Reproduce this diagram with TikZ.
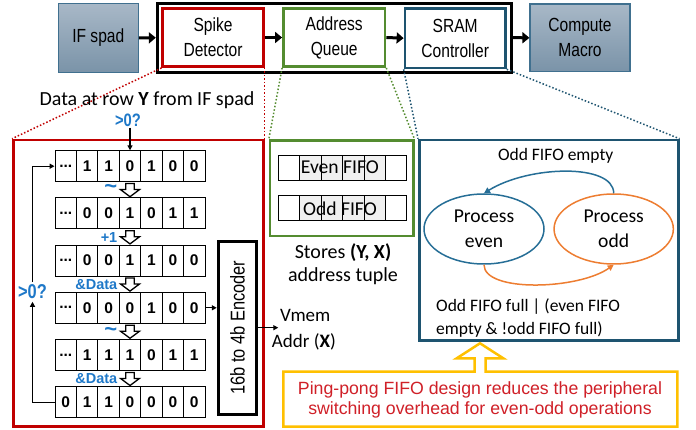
\documentclass[tikz,border=0pt]{standalone}
\usepackage{fontspec}
\setmainfont{Carlito}
\newfontfamily\arial{Liberation Sans}
\newfontfamily\narrow[FakeStretch=0.82]{Liberation Sans}
\usetikzlibrary{arrows.meta,calc,shapes.geometric}
\definecolor{cred}{RGB}{192,0,0}
\definecolor{cgreen}{RGB}{84,140,48}
\definecolor{cblue}{RGB}{30,84,112}
\definecolor{ceven}{RGB}{38,110,150}
\definecolor{codd}{RGB}{237,125,49}
\definecolor{clab}{RGB}{30,120,200}
\definecolor{cyel}{RGB}{255,192,0}
\definecolor{ctxt}{RGB}{208,32,40}
\definecolor{gtop}{RGB}{168,184,199}
\definecolor{gbot}{RGB}{122,147,168}
\definecolor{gborder}{RGB}{64,112,143}
\definecolor{cellgray}{RGB}{240,240,240}
\newcommand\mydots{...}
\newcommand\mytilde{\char"7E\relax}
\begin{document}
\begin{tikzpicture}[x=1pt,y=-1pt,
  topbox/.style={draw, line width=2.5pt, minimum width=100.6pt, minimum height=58.4pt, inner sep=0pt, align=center, font=\narrow\fontsize{19}{25}\selectfont},
  grayblock/.style={draw=gborder, line width=1.2pt, top color=gtop, bottom color=gbot, inner sep=0pt, align=center, font=\narrow\fontsize{19}{25}\selectfont},
  bigarrow/.style={line width=3pt, -{Triangle[length=7pt,width=11pt]}},
  thinarrow/.style={line width=1.3pt, -{Triangle[length=5pt,width=5pt]}},
  bitcell/.style={draw, line width=0.8pt, minimum width=21.43pt, minimum height=31pt, inner sep=0pt, font=\arial\bfseries\fontsize{15.5}{15.5}\selectfont},
  fifocell/.style={draw, line width=0.8pt, minimum width=21.4pt, minimum height=25pt, inner sep=0pt},
  hollow/.style={draw, line width=1.3pt, fill=white, line join=miter},
  lab/.style={text=clab, font=\arial\bfseries\fontsize{14.5}{14.5}\selectfont, inner sep=0pt, anchor=east},
  tildelab/.style={text=clab, font=\arial\bfseries\fontsize{22}{22}\selectfont, inner sep=0pt, anchor=east},
  zoomline/.style={dotted, line width=1.5pt},
  calibri/.style={font=\fontsize{#1}{#1}\selectfont}
]
\useasboundingbox (0,0) rectangle (696,430);

% ---------- top row ----------
\node[grayblock, minimum width=80pt, minimum height=69.4pt] (ifspad) at (98.3,38) {IF spad};
\node[draw, line width=3pt, minimum width=353.7pt, minimum height=68.7pt] (core) at (334.2,37.7) {};
\node[topbox, draw=cred] (spike) at (213,37.5) {Spike\\Detector};
\node[topbox, draw=cgreen, minimum width=101.7pt] (addr) at (334.2,37.5) {Address\\Queue};
\node[topbox, draw=cblue, minimum height=59.7pt] (sram) at (455.2,38.2) {SRAM\\Controller};
\node[grayblock, minimum width=100pt, minimum height=67.7pt] (compute) at (580,37.8) {Compute\\Macro};

\draw[bigarrow] (ifspad.east) -- (core.west);
\draw[bigarrow] (spike.east) -- (addr.west);
\draw[bigarrow] (addr.east) -- (sram.west);
\draw[bigarrow] (core.east) -- (compute.west);

% ---------- big boxes ----------
\node[draw=cred, line width=2.5pt, minimum width=250pt, minimum height=286.7pt] (spikebig) at (138.3,283.3) {};
\node[draw=cgreen, line width=2.5pt, minimum width=143.3pt, minimum height=95.3pt] (addrbig) at (341.7,188.3) {};
\node[draw=cblue, line width=2.5pt, minimum width=259pt, minimum height=200.7pt] (srambig) at (548.8,240.3) {};

\draw[zoomline, cred] (spike.south west) -- (spikebig.north west);
\draw[zoomline, cred] (spike.south east) -- (spikebig.north east);
\draw[zoomline, cgreen] (addr.south west) -- (addrbig.north west);
\draw[zoomline, cgreen] (addr.south east) -- (addrbig.north east);
\draw[zoomline, cblue] (sram.south west) -- (srambig.north west);
\draw[zoomline, cblue] (sram.south east) -- (srambig.north east);

% ---------- spike detector detail ----------
\node[calibri=20] (datatxt) at (147,100) {Data at row \textbf{Y} from IF spad};
\node[text=clab, font=\narrow\bfseries\fontsize{18}{18}\selectfont, inner sep=1pt] (gtqtop) at (128,120) {>0?};

\foreach [count=\ri] \bits in {{\mydots,1,1,0,1,0,0},{\mydots,0,0,1,0,1,1},{\mydots,0,0,1,1,0,0},{\mydots,0,0,0,1,0,0},{\mydots,1,1,1,0,1,1},{0,1,1,0,0,0,0}} {
  \foreach [count=\ci] \b in \bits {
    \node[bitcell] (r\ri c\ci) at ({55+21.43*(\ci-0.5)}, {166.2+47.2*(\ri-1)}) {\b};
  }
}

\draw[thinarrow] (gtqtop.south -| r1c4.north) -- (r1c4.north);

\foreach \i in {1,...,5} {
  \pgfmathtruncatemacro\j{\i+1}
  \draw[hollow] let \p1=(r\i c4.south), \p2=(r\j c4.north) in
    (\x1-4.3pt,\y1-1.5pt) -- (\x1+4.3pt,\y1-1.5pt) -- (\x1+4.3pt,\y1-7.5pt) -- (\x1+9.5pt,\y1-7.5pt)
    -- (\x1,\y2+0.8pt) -- (\x1-9.5pt,\y1-7.5pt) -- (\x1-4.3pt,\y1-7.5pt) -- cycle;
}

\node[tildelab] (op1) at (117.5,189) {\mytilde};
\node[lab] (op2) at (117.5,237.3) {+1};
\node[lab] (op3) at (117.5,285) {\&Data};
\node[tildelab] (op4) at (117.5,331.7) {\mytilde};
\node[lab] (op5) at (117.5,378.3) {\&Data};

\node[text=clab, font=\narrow\bfseries\fontsize{20}{20}\selectfont, inner sep=2.5pt] (gtq) at (32.5,292) {>0?};
\draw[thinarrow] (r6c1.west) -- (r6c1.west -| gtq.south) -- (gtq.south);
\draw[thinarrow] (gtq.north) -- (gtq.north |- r1c1.west) -- (r1c1.west);

\node[draw, line width=3pt, minimum width=38.4pt, minimum height=173.3pt, inner sep=0pt] (enc) at (237.5,327.7) {};
\node[rotate=90, font=\narrow\fontsize{20}{20}\selectfont] (enctext) at (enc.center) {16b to 4b Encoder};
\draw[thinarrow] (r4c7.east) -- (r4c7.east -| enc.west);
\coordinate (vout) at (278.3,327.7);
\draw[thinarrow] (enc.east) -- (vout);
\node[anchor=west, calibri=19, inner sep=0pt] (vmem) at (280,315) {Vmem};
\node[anchor=west, calibri=19, inner sep=0pt] (addrx) at (271.7,341.7) {Addr (\textbf{X})};

% ---------- address queue detail ----------
\foreach \k in {1,...,6} {
  \ifnum\k=1 \def\fc{white}\else\ifnum\k=6 \def\fc{white}\else\def\fc{cellgray}\fi\fi
  \node[fifocell, fill=\fc] (e\k) at ({278.3+21.4*(\k-0.5)},167.5) {};
  \node[fifocell, fill=\fc] (o\k) at ({278.3+21.4*(\k-0.5)},208.3) {};
}
\node[calibri=19.6, inner sep=0pt] (eventxt) at ($(e3.east)+(-3,0)$) {Even FIFO};
\node[calibri=19.6, inner sep=0pt] (oddtxt) at ($(o3.east)+(-3,0)$) {Odd FIFO};
\node[align=center, font=\fontsize{20}{22.5}\selectfont] (stores) at (343,264) {Stores \textbf{(Y, X)}\\address tuple};

% ---------- SRAM controller detail ----------
\node[calibri=17.5] (oddempty) at (555.7,156) {Odd FIFO empty};
\node[ellipse, draw=ceven, line width=1.5pt, minimum width=120pt, minimum height=70pt, inner sep=0pt, align=center, font=\fontsize{19.6}{25}\selectfont] (even) at (484,229) {Process\\even};
\node[ellipse, draw=codd, line width=1.5pt, minimum width=119.3pt, minimum height=70pt, inner sep=0pt, align=center, font=\fontsize{19.6}{25}\selectfont] (odd) at (613.7,229) {Process\\odd};
\draw[ceven, line width=1.5pt, -{Triangle[length=6pt,width=6pt]}] (odd.north) .. controls +(0,-30) and +(45,-28) .. (even.north);
\draw[codd, line width=1.5pt, -{Triangle[length=6pt,width=6pt]}] (even.south) .. controls +(0,28) and +(-35,25) .. (odd.south);
\node[anchor=west, align=left, font=\fontsize{17.5}{23.3}\selectfont, inner sep=0pt] (cond) at (436,318.3) {Odd FIFO full | (even FIFO\\empty \& !odd FIFO full)};

% ---------- callout ----------
\draw[cyel, line width=2.5pt, fill=white, line join=miter]
  (283.3,371.7) -- (474.5,371.7) -- (474.5,358.3) -- (456.7,358.3) -- (480,343.3)
  -- (503.3,358.3) -- (485.5,358.3) -- (485.5,371.7) -- (677.3,371.7) -- (677.3,426.7)
  -- (283.3,426.7) -- cycle;
\node[text=ctxt, align=center, font=\arial\fontsize{17.7}{20}\selectfont] (callout) at (480,400) {Ping-pong FIFO design reduces the peripheral\\switching overhead for even-odd operations};
\end{tikzpicture}
\end{document}
